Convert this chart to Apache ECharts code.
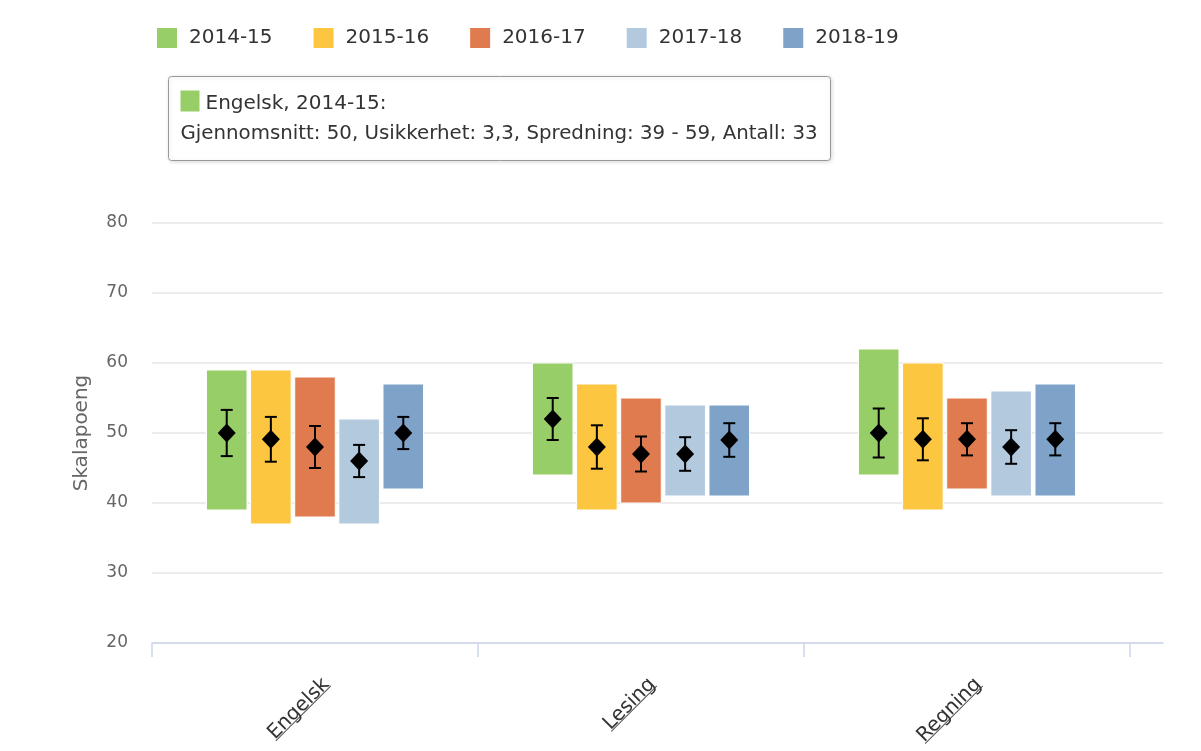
<!DOCTYPE html>
<html>
<head>
<meta charset="utf-8">
<title>Skalapoeng</title>
<script src="https://cdn.jsdelivr.net/npm/echarts@6/dist/echarts.min.js"></script>
<style>
  html, body { margin: 0; padding: 0; background: #fff; }
  #chart { width: 1201px; height: 751px; }
</style>
</head>
<body>
<div id="chart"></div>
<script>
var categories = ['Engelsk', 'Lesing', 'Regning'];
var years = ['2014-15', '2015-16', '2016-17', '2017-18', '2018-19'];
var colors = ['#98ce68', '#fdc640', '#e07b4f', '#b3c9de', '#7fa3c8'];

// per kategori, en verdi per skoleår
var lowEngelsk = [39, 37, 38, 37, 42];
var highEngelsk = [59, 59, 58, 52, 57];
var meanEngelsk = [50, 49.1, 48, 46, 50];
var errEngelsk = [3.3, 3.2, 3.0, 2.3, 2.3];

var lowLesing = [44, 39, 40, 41, 41];
var highLesing = [60, 57, 55, 54, 54];
var meanLesing = [52, 48, 47, 47, 49];
var errLesing = [3.0, 3.1, 2.5, 2.4, 2.4];

var lowRegning = [44, 39, 42, 41, 41];
var highRegning = [62, 60, 55, 56, 57];
var meanRegning = [50, 49.1, 49.1, 48, 49.1];
var errRegning = [3.5, 3.0, 2.3, 2.4, 2.3];

var antall = [33];
var yTicks = { min: 20, max: 80, interval: 10 };

var lows = [lowEngelsk, lowLesing, lowRegning];
var highs = [highEngelsk, highLesing, highRegning];
var means = [meanEngelsk, meanLesing, meanRegning];
var errs = [errEngelsk, errLesing, errRegning];

var font = 'DejaVu Sans';
var catFontSize = 20;
var catMargin = 27;
var catPadTop = 6;

//tegn spenn, usikkerhet og gjennomsnitt
function renderItem(params, api) {
  var cat = api.value(0);
  var low = api.value(1), high = api.value(2), mean = api.value(3), err = api.value(4);
  var band = api.size([1, 0])[0];
  var step = band * 0.1354;
  var w = band * 0.1245;
  var cx = api.coord([cat, mean])[0] + (params.seriesIndex - 2) * step;
  var yLow = api.coord([cat, low])[1];
  var yHigh = api.coord([cat, high])[1];
  var yM = api.coord([cat, mean])[1];
  var yT = api.coord([cat, mean + err])[1];
  var yB = api.coord([cat, mean - err])[1];
  var cap = 6;
  return {
    type: 'group',
    children: [
      { type: 'rect', shape: { x: cx - w / 2, y: yHigh, width: w, height: yLow - yHigh },
        style: { fill: api.visual('color'), stroke: '#fff', lineWidth: 1 } },
      { type: 'line', shape: { x1: cx, y1: yT, x2: cx, y2: yB }, style: { stroke: '#000', lineWidth: 2 } },
      { type: 'line', shape: { x1: cx - cap, y1: yT, x2: cx + cap, y2: yT }, style: { stroke: '#000', lineWidth: 2 } },
      { type: 'line', shape: { x1: cx - cap, y1: yB, x2: cx + cap, y2: yB }, style: { stroke: '#000', lineWidth: 2 } },
      { type: 'polygon', shape: { points: [[cx, yM - 9.5], [cx + 9, yM], [cx, yM + 9.5], [cx - 9, yM]] },
        style: { fill: '#000' } }
    ]
  };
}

var series = years.map(function (year, j) {
  var data = categories.map(function (c, i) {
    return [i, lows[i][j], highs[i][j], means[i][j], errs[i][j]];
  });
  return {
    name: year,
    type: 'custom',
    xAxisIndex: 1,
    yAxisIndex: 1,
    itemStyle: { color: colors[j] },
    renderItem: renderItem,
    encode: { x: 0, y: [1, 2] },
    data: data
  };
});

var tipTitle = categories[0] + ', ' + years[0] + ':';
var tipText = 'Gjennomsnitt: ' + meanEngelsk[0] + ', Usikkerhet: ' + String(errEngelsk[0]).replace('.', ',') +
  ', Spredning: ' + lowEngelsk[0] + ' - ' + highEngelsk[0] + ', Antall: ' + antall[0];

var option = {
  animation: false,
  textStyle: { fontFamily: font },
  legend: {
    left: 157,
    top: 28,
    padding: 0,
    icon: 'rect',
    itemWidth: 20,
    itemHeight: 20,
    itemGap: 41,
    textStyle: { fontSize: 20, color: '#333', padding: [0, 0, 0, 7] },
    data: years
  },
  grid: [
    { left: 152, right: 38, top: 223, bottom: 108 },
    { left: 152, right: 71, top: 223, bottom: 108 }
  ],
  xAxis: [
    {
      gridIndex: 0, type: 'value', min: 0, max: 1,
      axisLine: { show: true, onZero: false, lineStyle: { color: '#ccd6eb', width: 1.5 } },
      axisTick: { show: false }, axisLabel: { show: false }, splitLine: { show: false }
    },
    {
      gridIndex: 1, type: 'category', data: categories,
      axisLine: { show: false },
      axisTick: { show: true, length: 14, interval: 0, lineStyle: { color: '#ccd6eb', width: 1.5 } },
      axisLabel: { rotate: 45, margin: catMargin, verticalAlign: 'top', padding: [catPadTop, 0, 0, 0],
                   fontSize: catFontSize, color: '#333' }
    }
  ],
  yAxis: [
    {
      gridIndex: 0, type: 'value', min: yTicks.min, max: yTicks.max, interval: yTicks.interval,
      name: 'Skalapoeng', nameLocation: 'middle', nameGap: 60,
      nameTextStyle: { fontSize: 20, color: '#666' },
      axisLine: { show: false }, axisTick: { show: false },
      axisLabel: { margin: 24, fontSize: 17, color: '#666' },
      splitLine: { lineStyle: { color: '#e6e6e6', width: 1.5 } }
    },
    {
      gridIndex: 1, type: 'value', min: yTicks.min, max: yTicks.max, interval: yTicks.interval,
      show: false, splitLine: { show: false }
    }
  ],
  graphic: [
    {
      type: 'group', left: 168, top: 76,
      children: [
        { type: 'rect', shape: { x: 0, y: 0, width: 662, height: 84, r: 3 },
          style: { fill: '#fff', stroke: '#999', lineWidth: 1,
                   shadowBlur: 4, shadowOffsetX: 1, shadowOffsetY: 1, shadowColor: 'rgba(0,0,0,0.15)' } },
        { type: 'rect', shape: { x: 12, y: 14, width: 19, height: 21 }, style: { fill: colors[0] } },
        { type: 'text', x: 37, y: 27,
          style: { text: tipTitle, font: '20px "DejaVu Sans"', fill: '#333', verticalAlign: 'middle' } },
        { type: 'text', x: 12, y: 57,
          style: { text: tipText, font: '19.8px "DejaVu Sans"', fill: '#333', verticalAlign: 'middle' } }
      ]
    }
  ],
  series: series
};

var myChart = echarts.init(document.getElementById('chart'));
myChart.setOption(option);

// understreking av kategorinavnene (lenker)
var measure = document.createElement('canvas').getContext('2d');
measure.font = catFontSize + 'px "DejaVu Sans"';
var axisY = myChart.convertToPixel({ yAxisIndex: 1 }, yTicks.min);
var underlines = categories.map(function (name, i) {
  var px = myChart.convertToPixel({ xAxisIndex: 1 }, i);
  var len = measure.measureText(name).width;
  var off = catPadTop + catFontSize * 0.82;
  return {
    type: 'group', x: px, y: axisY + catMargin, rotation: Math.PI / 4,
    children: [
      { type: 'line', shape: { x1: -len, y1: off, x2: 0, y2: off }, style: { stroke: '#555', lineWidth: 1 } }
    ]
  };
});
myChart.setOption({ graphic: option.graphic.concat(underlines) });
</script>
</body>
</html>
